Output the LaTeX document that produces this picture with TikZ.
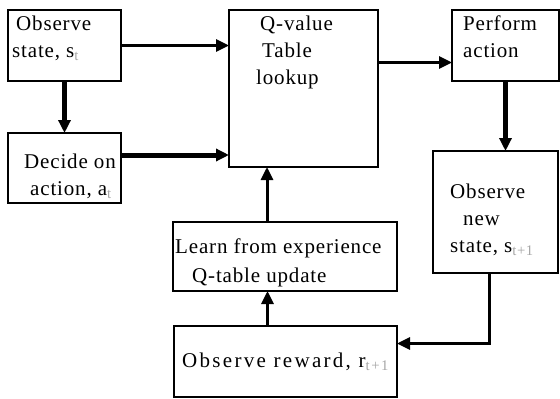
\documentclass[tikz,border=0pt]{standalone}
\usepackage{fontspec}
\setmainfont[LetterSpace=4]{Liberation Serif}
\usetikzlibrary{arrows.meta}
\newcommand{\lowsub}[1]{\textsubscript{\color{black!35}#1}}
\begin{document}
\begin{tikzpicture}[x=1pt,y=-1pt,
    box/.style={draw,rectangle,line width=1.4pt,anchor=north west,inner sep=0pt,outer sep=0pt},
    txt/.style={anchor=base west,inner sep=0pt,align=left,font=\fontsize{21}{27}\selectfont},
    flow/.style={line width=3pt,-{Triangle[length=13pt,width=12pt]}},
    bigflow/.style={flow,line width=5pt}]
  \useasboundingbox (0,0) rectangle (560,399);
  % the boxes
  \node[box,minimum width=113pt,minimum height=71pt] (obs) at (8,10) {};
  \node[box,minimum width=113pt,minimum height=70pt] (dec) at (8,133) {};
  \node[box,minimum width=149pt,minimum height=157pt] (qtab) at (229,10) {};
  \node[box,minimum width=107pt,minimum height=71pt] (perf) at (452,10) {};
  \node[box,minimum width=125pt,minimum height=122pt] (newst) at (433,151) {};
  \node[box,minimum width=224pt,minimum height=69pt] (learn) at (173,222) {};
  \node[box,minimum width=223pt,minimum height=71pt] (rew) at (174,326) {};
  % the texts in them (placed at the baseline of their last line)
  \node[txt] (obs-t) at (12,57) {\hspace*{4pt}Observe\\state, s\lowsub{t}};
  \node[txt] (dec-t) at (24,195) {Decide on\\\hspace*{6pt}action, a\lowsub{t}};
  \node[txt] (qtab-t) at (256,84) {\hspace*{4pt}Q-value\\\hspace*{6pt}Table\\lookup};
  \node[txt] (perf-t) at (463,57) {Perform\\action};
  \node[txt] (newst-t) at (450,252) {Observe\\\hspace*{13pt}new\\state, s\lowsub{t+1}};
  \node[txt,font=\fontsize{21}{29}\selectfont] (learn-t) at (175,282) {Learn from experience\\\hspace*{17pt}Q-table update};
  \node[txt] (rew-t) at (182,367) {\addfontfeature{LetterSpace=11}Observe reward, r\lowsub{t+1}};
  % arrows
  \draw[flow] (obs.east) -- (obs.east -| qtab.west);
  \draw[bigflow] (obs.south) -- (dec.north);
  \draw[bigflow] ([yshift=13pt]dec.east) -- ([yshift=13pt]dec.east -| qtab.west);
  \draw[flow] ([yshift=-17pt]perf.west -| qtab.east) -- ([yshift=-17pt]perf.west);
  \draw[bigflow] (perf.south) -- (perf.south |- newst.north);
  \draw[flow] ([xshift=-6pt]newst.south) |- ([yshift=18pt]rew.east);
  \draw[flow] ([xshift=-18pt]rew.north) -- ([xshift=-18pt]rew.north |- learn.south);
  \draw[flow] ([xshift=-18pt]learn.north) -- ([xshift=-18pt]learn.north |- qtab.south);
\end{tikzpicture}
\end{document}
